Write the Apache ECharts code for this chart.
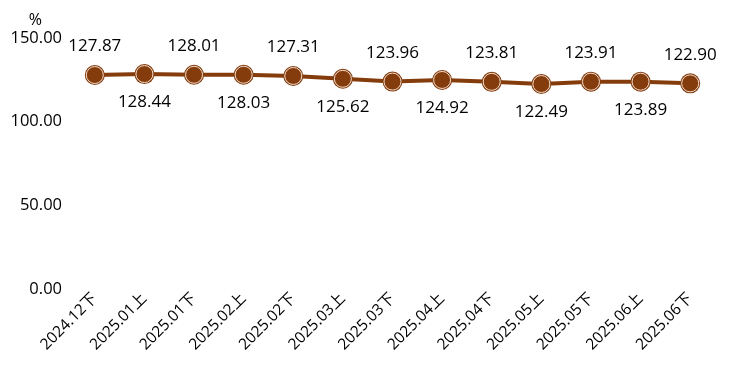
<!DOCTYPE html>
<html><head><meta charset="utf-8">
<script src="https://cdn.jsdelivr.net/npm/echarts@6/dist/echarts.min.js"></script>
<style>html,body{margin:0;padding:0;background:#fff}#c{width:729px;height:376px}</style>
</head><body><div id="c"></div>
<script>
const categories = ['2024.12下','2025.01上','2025.01下','2025.02上','2025.02下','2025.03上','2025.03下','2025.04上','2025.04下','2025.05上','2025.05下','2025.06上','2025.06下'];
const values = [127.87,128.44,128.01,128.03,127.31,125.62,123.96,124.92,123.81,122.49,123.91,123.89,122.90];
const yTicks = [0,50,100,150];
const font = '"Open Sans","Noto Sans CJK SC",sans-serif';
const chart = echarts.init(document.getElementById('c'));
chart.setOption({
  animation:false,
  grid:{left:70,right:14,top:38,bottom:87},
  xAxis:{type:'category',data:categories,boundaryGap:true,
    axisLine:{show:false},axisTick:{show:false},
    axisLabel:{rotate:45,interval:0,fontSize:15.5,color:'#000',fontFamily:font,margin:7}},
  yAxis:{type:'value',min:yTicks[0],max:yTicks[yTicks.length-1],interval:50,
    name:'%',nameLocation:'end',nameGap:10,nameTextStyle:{fontSize:16,color:'#000',fontFamily:font,align:'right',padding:[0,28,0,0]},
    splitLine:{show:false},axisLine:{show:false},axisTick:{show:false},
    axisLabel:{fontSize:16.5,color:'#000',fontFamily:font,margin:8,formatter:v=>v.toFixed(2)}},
  series:[{type:'line',
    data:values,
    symbol:'circle',symbolSize:20,z:2,
    lineStyle:{color:'#843C0C',width:4},
    itemStyle:{color:'#843C0C'}
  },{type:'line',
    data:values.map((v,i)=>({value:v,label:{position:i%2===0?'top':'bottom'}})),
    symbol:'circle',symbolSize:17,z:3,
    lineStyle:{width:0,opacity:0},
    itemStyle:{color:'#843C0C',borderColor:'#F2DCCD',borderWidth:1},
    label:{show:true,distance:11,fontSize:17,color:'#000',fontFamily:font,formatter:p=>p.value.toFixed(2)}
  }]
});
</script></body></html>
